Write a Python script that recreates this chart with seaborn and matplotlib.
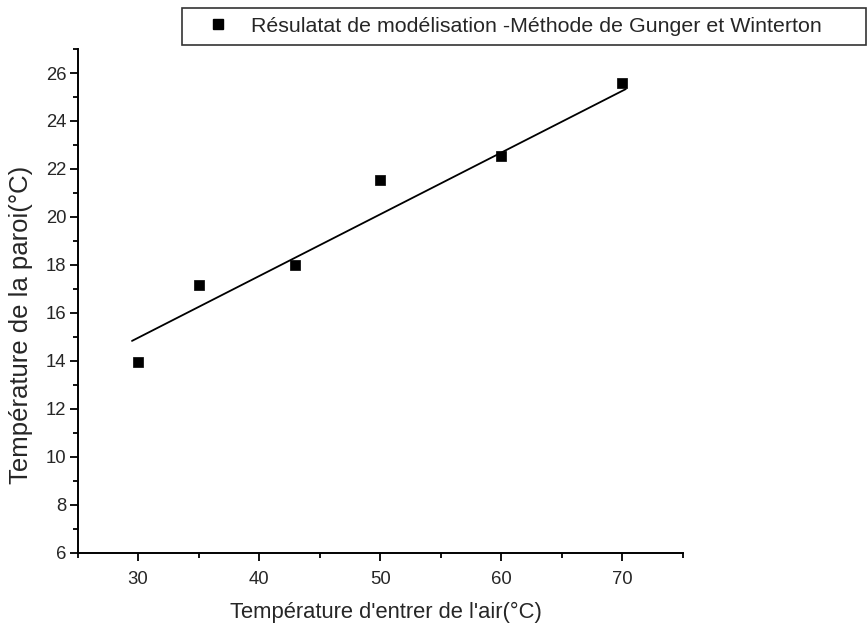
import matplotlib
matplotlib.use("Agg")
import matplotlib.pyplot as plt
from matplotlib.ticker import MultipleLocator
from matplotlib.lines import Line2D
import seaborn as sns
import pandas as pd

# data
x_air = [30, 35, 43, 50, 60, 70]
t_paroi = [13.95, 17.15, 18.0, 21.55, 22.55, 25.6]
fit_x = [29.5, 70.3]
fit_y = [14.83, 25.33]
legend_label = "Résulatat de modélisation -Méthode de Gunger et Winterton"
xlabel = "Température d'entrer de l'air(°C)"
ylabel = "Température de la paroi(°C)"

sns.set_style("ticks")
plt.rcParams['font.family'] = ['Liberation Sans', 'DejaVu Sans']

fig = plt.figure(figsize=(8.67, 6.31), dpi=100)
ax = fig.add_axes([0.0894, 0.1241, 0.6980, 0.7982])

df = pd.DataFrame({"x": x_air, "y": t_paroi})
dfit = pd.DataFrame({"x": fit_x, "y": fit_y})
sns.lineplot(data=dfit, x="x", y="y", ax=ax, color="black", linewidth=1.3)
sns.scatterplot(data=df, x="x", y="y", ax=ax, marker="s", s=55, color="black",
                edgecolor="black", linewidth=0.5, zorder=5)

ax.set_xlim(25, 75)
ax.set_ylim(6, 27)
ax.xaxis.set_minor_locator(MultipleLocator(5))
ax.yaxis.set_minor_locator(MultipleLocator(1))
ax.set_yticks([6, 8, 10, 12, 14, 16, 18, 20, 22, 24, 26])
ax.set_xticks([30, 40, 50, 60, 70])

sns.despine(ax=ax)
for s in ["left", "bottom"]:
    ax.spines[s].set_linewidth(1.4)
    ax.spines[s].set_color("black")
ax.tick_params(which="major", length=6, width=1.3, color="black", labelsize=13.3, direction="out")
ax.tick_params(which="minor", length=3.5, width=1.3, color="black", direction="out")
ax.tick_params(axis="x", pad=7)
ax.tick_params(axis="y", pad=2)

ax.set_xlabel(xlabel, fontsize=15.8)
ax.set_ylabel(ylabel, fontsize=18.5)
ax.xaxis.set_label_coords((385.5 - 77.5) / 605.2, -(623 - 552.7) / 503.7)
ax.xaxis.label.set_va("bottom")
ax.yaxis.set_label_coords((33 - 77.5) / 605.2, (552.7 - 325) / 503.7)

handle = Line2D([], [], marker="s", color="black", linestyle="none", markersize=6.8)
leg = fig.legend([handle], [legend_label], loc="upper left",
                 bbox_to_anchor=(182 / 867, 1 - 44 / 631, (866 - 182) / 867, 36 / 631),
                 mode="expand", fontsize=15.4, frameon=True, fancybox=False,
                 borderaxespad=0, handlelength=2.5, handletextpad=0.3, borderpad=0.42)
leg.get_frame().set_edgecolor("black")
leg.get_frame().set_linewidth(1.2)

fig.savefig("out.png", dpi=100)
